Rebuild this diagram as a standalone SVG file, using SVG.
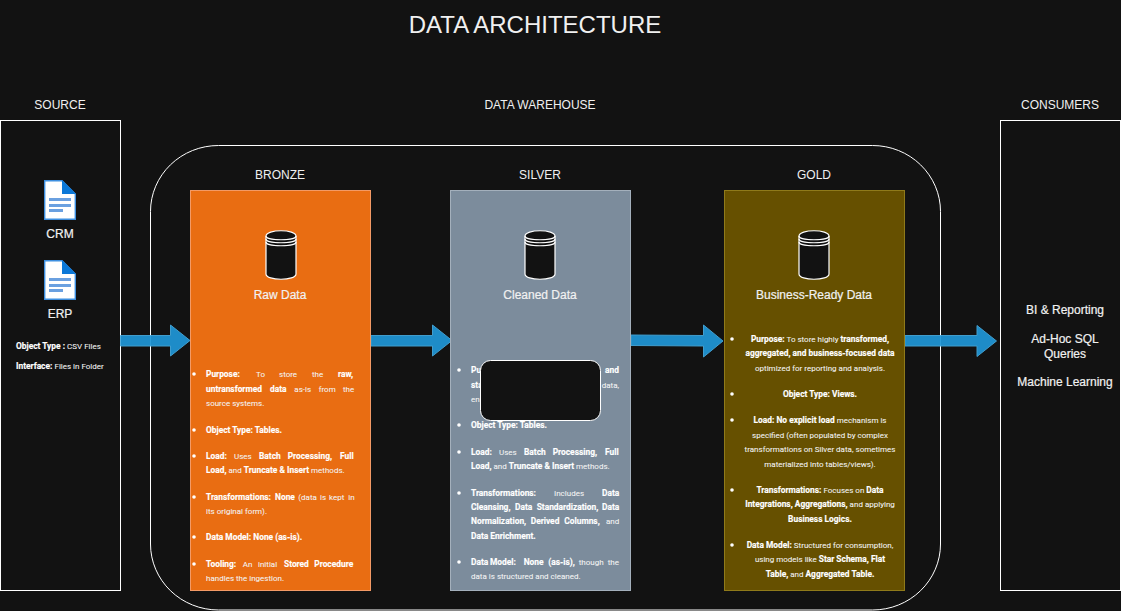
<svg xmlns="http://www.w3.org/2000/svg" width="1121" height="611" viewBox="0 0 1121 611">
<style>
text{font-family:"Liberation Sans",Arial,sans-serif;fill:#f0f0f0}
.h{font-size:12px;text-anchor:middle}
.n{font-size:12px;text-anchor:middle;stroke:#f4f4f4;stroke-width:.2}
.s{font-size:8px;fill:#f4f4f4;stroke:#f4f4f4;stroke-width:.06;font-family:Roboto,"Liberation Sans",sans-serif}
.c{text-anchor:middle}
.b{fill:#fff;stroke:#fff;stroke-width:.15;font-weight:700;font-size:8.4px}
.box{fill:#121212;stroke:#fff;stroke-width:1}
.arrow{fill:#1f96d6;stroke:#45a8dc;stroke-width:1;opacity:.93}
.dot{fill:#fff}
.cyl{fill:#121212;stroke:#fff;stroke-width:1.2}
.ln{fill:none;stroke:#fff;stroke-width:1.2}
.page{fill:#fff;stroke:#3d8fe0;stroke-width:1.4}
.fold{fill:#0b78d8}
.bar{fill:#6aa0e0}
</style>
<defs>
<g id="doc">
<path class="page" d="M0.7 .7H18L31.300 14V39.300H.7Z"/>
<path class="fold" d="M18 0L32 14H18Z"/>
<rect class="bar" x="5" y="18" width="22" height="3"/><rect class="bar" x="5" y="24" width="22" height="3"/><rect class="bar" x="5" y="29" width="14" height="3"/>
</g>
<g id="cyl">
<path class="cyl" d="M0 6C0 -1 30 -1 30 6V44C30 51 0 51 0 44Z"/>
<path class="ln" d="M0 6C0 11 30 11 30 6M0 9C0 14 30 14 30 9M0 12C0 17 30 17 30 12"/>
</g>
</defs>
<rect width="1121" height="611" fill="#121212"/>
<text x="535" y="33" font-size="24" text-anchor="middle">DATA ARCHITECTURE</text>
<text class="h" x="60" y="109">SOURCE</text>
<text class="h" x="540" y="109">DATA WAREHOUSE</text>
<text class="h" x="1060" y="109">CONSUMERS</text>
<g id="source"><rect class="box" x="0.500" y="120.500" width="120" height="470"/>
<use href="#doc" x="44" y="180"/><text class="n" x="60" y="238">CRM</text>
<use href="#doc" x="44" y="260"/><text class="n" x="60" y="318">ERP</text>
<text class="s" x="16" y="349"><tspan class="b">Object Type : </tspan>CSV Files</text>
<text class="s" x="16" y="369"><tspan class="b">Interface: </tspan>Files in Folder</text>
</g>
<g id="consumers"><rect class="box" x="1000.500" y="120.500" width="120" height="470"/>
<text class="n" x="1065" y="314">BI &amp; Reporting</text>
<text class="n" x="1065" y="343">Ad-Hoc SQL</text><text class="n" x="1065" y="358">Queries</text>
<text class="n" x="1065" y="386">Machine Learning</text></g>
<g id="warehouse"><rect x="150.500" y="145.500" width="790" height="464.500" rx="68" ry="66" fill="none" stroke="#fff"/></g>
<g id="connectors">
<path class="arrow" d="M120.500 335.500H170.500V325L190 340.500L170.500 356V346H120.500Z"/>
<path class="arrow" d="M371 335.500H432.500V325L452 340.500L432.500 356V346H371Z"/>
<path class="arrow" d="M631 335L703.500 335.500V325L723 341L703.500 357V346L631 345.500Z"/>
<path class="arrow" d="M905 335.500H977V325.500L996.500 341L977 356.500V346H905Z"/>
</g>
<text class="h" x="280" y="179">BRONZE</text><text class="h" x="540" y="179">SILVER</text><text class="h" x="814" y="179">GOLD</text>
<g id="bronze"><rect x="190.500" y="190.500" width="180" height="400" fill="#e96d12" stroke="#f39a66"/>
<use href="#cyl" x="266" y="230"/><text class="n" x="280" y="299">Raw Data</text>
<g class="dot"><circle cx="194" cy="374" r="1.800"/><circle cx="194" cy="430" r="1.800"/><circle cx="194" cy="456" r="1.800"/><circle cx="194" cy="497" r="1.800"/><circle cx="194" cy="537" r="1.800"/><circle cx="194" cy="564" r="1.800"/></g>
<text class="s" y="377"><tspan class="b" x="206">Purpose:</tspan><tspan x="256">To</tspan><tspan x="279">store</tspan><tspan x="312">the</tspan><tspan class="b" x="338">raw,</tspan></text>
<text class="s" y="392"><tspan class="b" x="206">untransformed</tspan><tspan class="b" x="270">data</tspan><tspan x="294.300">as-is</tspan><tspan x="318.700">from</tspan><tspan x="343">the</tspan></text>
<text class="s" y="406" x="206">source systems.</text>
<text class="s b" y="433" x="206">Object Type: Tables.</text>
<text class="s" y="459"><tspan class="b" x="206">Load:</tspan><tspan x="234">Uses</tspan><tspan class="b" x="259">Batch</tspan><tspan class="b" x="287.700">Processing,</tspan><tspan class="b" x="340">Full</tspan></text>
<text class="s" y="473" x="206"><tspan class="b">Load,</tspan> and <tspan class="b">Truncate &amp; Insert</tspan> methods.</text>
<text class="s" y="500"><tspan class="b" x="206">Transformations:</tspan><tspan class="b" x="275">None</tspan><tspan x="298.300">(data</tspan><tspan x="320">is</tspan><tspan x="329">kept</tspan><tspan x="348.300">in</tspan></text>
<text class="s" y="514" x="206">its original form).</text>
<text class="s b" y="540" x="206">Data Model: None (as-is).</text>
<text class="s" y="567"><tspan class="b" x="206">Tooling:</tspan><tspan x="242.700">An</tspan><tspan x="258">initial</tspan><tspan class="b" x="284">Stored</tspan><tspan class="b" x="314.300">Procedure</tspan></text>
<text class="s" y="581" x="206">handles the ingestion.</text>
</g>
<g id="silver"><rect x="450.500" y="190.500" width="180" height="400" fill="#7c8c9c" stroke="#a4b0bc"/>
<use href="#cyl" x="525" y="230"/><text class="n" x="540" y="299">Cleaned Data</text>
<g class="dot"><circle cx="459" cy="370" r="1.800"/><circle cx="459" cy="425" r="1.800"/><circle cx="459" cy="452" r="1.800"/><circle cx="459" cy="493" r="1.800"/><circle cx="459" cy="562" r="1.800"/></g>
<text class="s" y="373"><tspan class="b" x="471">Pu</tspan><tspan class="b" x="605">and</tspan></text>
<text class="s" y="388"><tspan class="b" x="471">sta</tspan><tspan x="601.700">data,</tspan></text>
<text class="s" y="402" x="471">en</text>
<text class="s b" y="428" x="471">Object Type: Tables.</text>
<text class="s" y="455"><tspan class="b" x="471">Load:</tspan><tspan x="499">Uses</tspan><tspan class="b" x="524">Batch</tspan><tspan class="b" x="552.700">Processing,</tspan><tspan class="b" x="605">Full</tspan></text>
<text class="s" y="469" x="471"><tspan class="b">Load,</tspan> and <tspan class="b">Truncate &amp; Insert</tspan> methods.</text>
<text class="s" y="496"><tspan class="b" x="471">Transformations:</tspan><tspan x="554">Includes</tspan><tspan class="b" x="602">Data</tspan></text>
<text class="s b" y="510"><tspan x="471">Cleansing,</tspan><tspan x="515">Data</tspan><tspan x="536.700">Standardization,</tspan><tspan x="602">Data</tspan></text>
<text class="s" y="524"><tspan class="b" x="471">Normalization,</tspan><tspan class="b" x="530.700">Derived</tspan><tspan class="b" x="564.300">Columns,</tspan><tspan x="606">and</tspan></text>
<text class="s b" y="539" x="471">Data Enrichment.</text>
<text class="s" y="565"><tspan class="b" x="471">Data</tspan><tspan class="b" x="490">Model:</tspan><tspan class="b" x="523.700">None</tspan><tspan class="b" x="548.300">(as-is),</tspan><tspan x="578.700">though</tspan><tspan x="607.700">the</tspan></text>
<text class="s" y="579" x="471">data is structured and cleaned.</text>
<rect x="480.500" y="360.500" width="120" height="60" rx="10" fill="#121212" stroke="#fff"/>
</g>
<g id="gold"><rect x="724.500" y="190.500" width="180" height="400" fill="#665000" stroke="#8f7a1a"/>
<use href="#cyl" x="799" y="230"/><text class="n" x="814" y="299">Business-Ready Data</text>
<g class="dot"><circle cx="732" cy="339" r="1.800"/><circle cx="732" cy="394" r="1.800"/><circle cx="732" cy="420" r="1.800"/><circle cx="732" cy="490" r="1.800"/><circle cx="732" cy="545" r="1.800"/></g>
<text class="s c" x="820" y="342"><tspan class="b">Purpose:</tspan> To store highly <tspan class="b">transformed,</tspan></text>
<text class="s c b" x="820" y="356">aggregated, and business-focused data</text>
<text class="s c" x="820" y="371">optimized for reporting and analysis.</text>
<text class="s c b" x="820" y="397">Object Type: Views.</text>
<text class="s c" x="820" y="423"><tspan class="b">Load: No explicit load</tspan> mechanism is</text>
<text class="s c" x="820" y="438">specified (often populated by complex</text>
<text class="s c" x="820" y="452">transformations on Silver data, sometimes</text>
<text class="s c" x="820" y="467">materialized into tables/views).</text>
<text class="s c" x="820" y="493"><tspan class="b">Transformations:</tspan> Focuses on <tspan class="b">Data</tspan></text>
<text class="s c" x="820" y="507"><tspan class="b">Integrations, Aggregations,</tspan> and applying</text>
<text class="s c b" x="820" y="522">Business Logics.</text>
<text class="s c" x="820" y="548"><tspan class="b">Data Model:</tspan> Structured for consumption,</text>
<text class="s c" x="820" y="562">using models like <tspan class="b">Star Schema, Flat</tspan></text>
<text class="s c" x="820" y="577"><tspan class="b">Table,</tspan> and <tspan class="b">Aggregated Table.</tspan></text>
</g>
</svg>
